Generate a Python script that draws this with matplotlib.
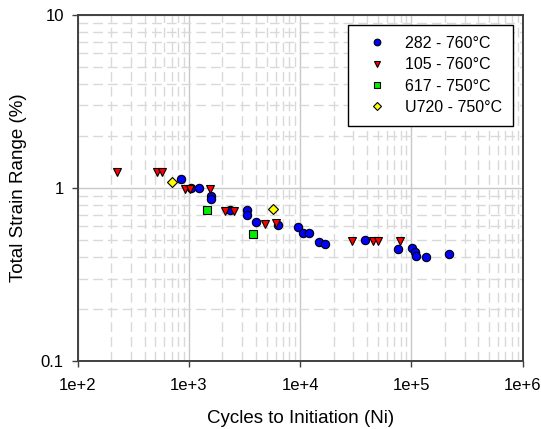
import numpy as np
import matplotlib
matplotlib.use("Agg")
import matplotlib.pyplot as plt
from matplotlib.ticker import FixedLocator, FuncFormatter, LogLocator, NullFormatter

plt.rcParams["font.family"] = ["Liberation Sans", "DejaVu Sans"]

# ── Data (cycles to initiation, total strain range %) ──
n_282 = [853, 1050, 1230, 1578, 1578, 2323, 3337, 3337, 4040, 6280, 9510,
         10640, 11950, 14720, 16670, 38200, 76400, 100600, 108000, 109500,
         135500, 218000]
e_282 = [1.122, 1.0, 1.0, 0.899, 0.864, 0.746, 0.746, 0.699, 0.639, 0.614,
         0.596, 0.548, 0.548, 0.488, 0.477, 0.499, 0.447, 0.449, 0.430,
         0.405, 0.398, 0.416]

n_105 = [224, 515, 571, 927, 1012, 1556, 2123, 2522, 4865, 6115, 28970,
         45100, 50000, 78900]
e_105 = [1.23, 1.23, 1.23, 0.983, 0.983, 0.987, 0.737, 0.737, 0.62, 0.626,
         0.492, 0.495, 0.495, 0.497]

n_617 = [1452, 3740]
e_617 = [0.743, 0.545]

n_u720 = [708, 5710]
e_u720 = [1.087, 0.756]

labels = ["282 - 760°C", "105 - 760°C", "617 - 750°C", "U720 - 750°C"]

SPINE = "#404040"

fig = plt.figure(figsize=(5.41, 4.29), dpi=100)
ax = fig.add_axes([0.1436, 0.1578, 0.8226, 0.8079])

# grid: solid major lines, dashed minor lines
ax.set_xscale("log")
ax.set_yscale("log")
ax.set_xlim(1e2, 1e6)
ax.set_ylim(0.1, 10)
ax.xaxis.set_major_locator(FixedLocator([1e2, 1e3, 1e4, 1e5, 1e6]))
ax.yaxis.set_major_locator(FixedLocator([0.1, 1, 10]))
ax.xaxis.set_minor_locator(LogLocator(base=10, subs=np.arange(2, 10)))
ax.yaxis.set_minor_locator(LogLocator(base=10, subs=np.arange(2, 10)))
ax.xaxis.set_major_formatter(FuncFormatter(lambda v, p: f"1e+{int(round(np.log10(v)))}"))
ax.yaxis.set_major_formatter(FuncFormatter(lambda v, p: f"{v:g}"))
ax.xaxis.set_minor_formatter(NullFormatter())
ax.yaxis.set_minor_formatter(NullFormatter())

ax.grid(which="major", color="#c8c8c8", linewidth=1.0, linestyle="-", zorder=0)
ax.grid(which="minor", color="#d9d9d9", linewidth=1.0, linestyle=(0, (7, 3.6)), zorder=0)
ax.set_axisbelow(True)

ax.tick_params(which="major", direction="out", length=4, width=1, color=SPINE,
               labelsize=12, top=False, right=False)
ax.tick_params(which="minor", length=0)
ax.tick_params(axis="x", pad=8)
ax.tick_params(axis="y", pad=6)

for s in ax.spines.values():
    s.set_color(SPINE)
    s.set_linewidth(1.4)

mk = dict(linestyle="none", markeredgecolor="black", markeredgewidth=0.8)
ax.plot(n_282, e_282, "o", color="#0000ff", markersize=6.0, label=labels[0], **mk)
ax.plot(n_105, e_105, "v", color="#ff0000", markersize=6.0, label=labels[1], **mk)
ax.plot(n_617, e_617, "s", color="#00ee00", markersize=5.4, label=labels[2], **mk)
ax.plot(n_u720, e_u720, "D", color="#ffff00", markersize=5.3, label=labels[3], **mk)

leg = ax.legend(loc="upper right", fontsize=11.5, frameon=True, fancybox=False,
                edgecolor="black", framealpha=1, borderaxespad=0.62,
                handletextpad=0.55, labelspacing=0.4, borderpad=0.7,
                handlelength=2.3, markerscale=0.8)
leg.get_frame().set_linewidth(1.0)

ax.set_xlabel("Cycles to Initiation (Ni)", fontsize=13.5, labelpad=12)
ax.set_ylabel("Total Strain Range (%)", fontsize=13.5, labelpad=10)

fig.savefig("out.png", dpi=100)
